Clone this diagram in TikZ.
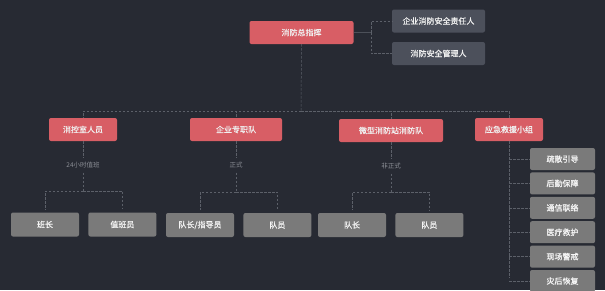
\documentclass[tikz,border=0pt]{standalone}
\usepackage{fontspec}
\newfontfamily\cjk{Noto Sans CJK SC}
\newfontfamily\cjkbox{Noto Sans CJK SC}[FakeBold=0.7]
\usetikzlibrary{positioning,calc}
\definecolor{canvas}{HTML}{272A33}
\definecolor{chiefred}{HTML}{D85E65}
\definecolor{slate}{HTML}{4C505B}
\definecolor{leafgray}{HTML}{7A7A7A}
\definecolor{wire}{HTML}{5C6069}
\definecolor{tagtext}{HTML}{8C8F96}

\begin{document}
\begin{tikzpicture}[
    x=1pt, y=-1pt,
    font=\cjkbox\fontsize{8}{9}\selectfont,
    lead/.style={rectangle, rounded corners=2pt, fill=chiefred, text=white!94!black,
                 minimum height=23pt, inner sep=0pt, align=center},
    deputy/.style={rectangle, rounded corners=2pt, fill=slate, text=white!94!black,
                   minimum width=93pt, minimum height=23pt, inner sep=0pt},
    member/.style={rectangle, rounded corners=2pt, fill=leafgray, text=white!96!black,
                   minimum width=68pt, minimum height=24pt, inner sep=0pt},
    duty/.style={rectangle, rounded corners=2pt, fill=leafgray, text=white!96!black,
                 minimum width=65pt, minimum height=22pt, inner sep=0pt},
    tag/.style={font=\cjk\fontsize{6.5}{8}\selectfont, text=tagtext, inner sep=4pt},
    link/.style={draw=wire, dashed, dash pattern=on 2.5pt off 1.5pt, line width=0.5pt},
    stub/.style={draw=wire!70!canvas, line width=0.8pt}
  ]
  \fill[canvas] (0,0) rectangle (605,290);
  \useasboundingbox (0,0) rectangle (605,290);

  % ----- Top: chief and deputies -----
  \node[lead, minimum width=104pt] (chief) at (301.5,32.5) {消防总指挥};
  \node[deputy] (resp) at (438.5,21)   {企业消防安全责任人};
  \node[deputy] (mgr)  at (438.5,53.5) {消防安全管理人};
  \coordinate (fork) at (371,32.5);
  \draw[stub] (chief.east) -- (fork);
  \draw[link] (fork) |- (resp.west);
  \draw[link] (fork) |- (mgr.west);

  % ----- Middle row: four teams -----
  \node[lead, minimum width=68pt]  (room)  at (83,129.5)  {消控室人员};
  \node[lead, minimum width=92pt]  (corp)  at (236,129.5) {企业专职队};
  \node[lead, minimum width=104pt] (micro) at (391,130.5) {微型消防站消防队};
  \node[lead, minimum width=68pt]  (rescue) at (509,129.5) {应急救援小组};
  \coordinate (bus) at (301,111);
  \draw[link] (chief.south) -- (bus);
  \draw[link] (bus) -| (room.north);
  \draw[link] (bus) -| (corp.north);
  \draw[link] (bus) -| (micro.north);
  \draw[link] (bus) -| (rescue.north);

  % ----- Bottom row: members -----
  \node[tag, below=17pt of room.south, anchor=north] (t1) {24小时值班};
  \node[tag, below=17pt of corp.south, anchor=north] (t2) {正式};
  \node[tag, below=17pt of micro.south, anchor=north] (t3) {非正式};
  \node[member] (monitor) at (45,224.5) {班长};
  \node[member, right=9pt of monitor] (watch)  {值班员};
  \node[member] (captain) at (200,225) {队长/指导员};
  \node[member, right=9pt of captain] (crew1)  {队员};
  \node[member] (leader) at (352,225) {队长};
  \node[member, right=9pt of leader] (crew2)  {队员};
  \coordinate (s1) at (83,191);
  \coordinate (s2) at (236,192);
  \coordinate (s3) at (391,192);
  \draw[link] (room.south) -- (t1.north);
  \draw[link] (t1.south) -- (s1);
  \draw[link, shorten >=3pt] (s1) -| (monitor.north);
  \draw[link, shorten >=3pt] (s1) -| (watch.north);
  \draw[link] (corp.south) -- (t2.north);
  \draw[link] (t2.south) -- (s2);
  \draw[link, shorten >=3pt] (s2) -| (captain.north);
  \draw[link, shorten >=3pt] (s2) -| (crew1.north);
  \draw[link] (micro.south) -- (t3.north);
  \draw[link] (t3.south) -- (s3);
  \draw[link, shorten >=3pt] (s3) -| (leader.north);
  \draw[link, shorten >=3pt] (s3) -| (crew2.north);

  % ----- Right column: rescue duties -----
  \node[duty] (evac) at (562.5,159) {疏散引导};
  \node[duty, below=2pt of evac]  (logi)  {后勤保障};
  \node[duty, below=2pt of logi]  (comm)  {通信联络};
  \node[duty, below=2pt of comm]  (med)   {医疗救护};
  \node[duty, below=2pt of med]   (guard) {现场警戒};
  \node[duty, below=2pt of guard] (recov) {灾后恢复};
  \coordinate (rend) at (509,278);
  \draw[link] (rescue.south) -- (rend);
  \draw[link] (rescue.south |- evac.west)  -- (evac.west);
  \draw[link] (rescue.south |- logi.west)  -- (logi.west);
  \draw[link] (rescue.south |- comm.west)  -- (comm.west);
  \draw[link] (rescue.south |- med.west)   -- (med.west);
  \draw[link] (rescue.south |- guard.west) -- (guard.west);
  \draw[link] (rescue.south |- recov.west) -- (recov.west);
\end{tikzpicture}
\end{document}
